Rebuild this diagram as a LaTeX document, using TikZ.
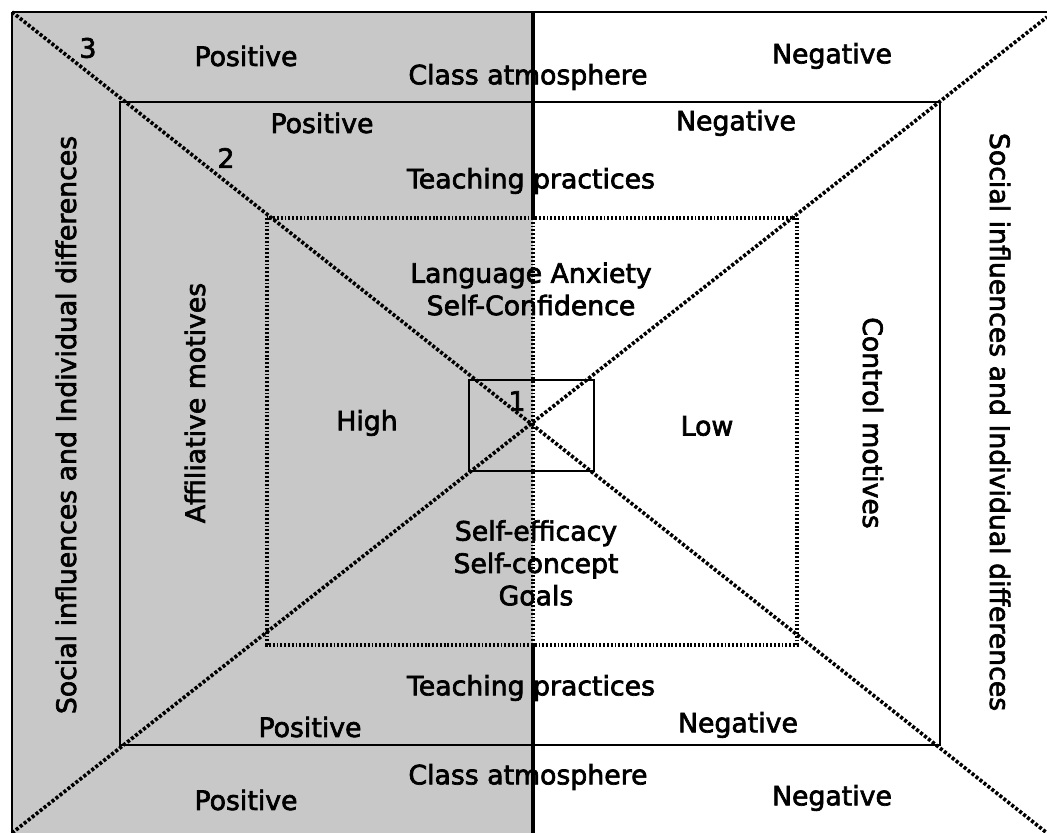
\documentclass[tikz,border=0pt]{standalone}
\usepackage{fontspec}
\setmainfont{DejaVu Sans}
\newfontfamily\lblfont{DejaVu Sans}[FakeBold=2.5]
\definecolor{panelgray}{RGB}{200,200,200}
\begin{document}
\begin{tikzpicture}[x=0.025cm, y=-0.025cm,
  lbl/.style={font=\lblfont\fontsize{19}{23}\selectfont, inner sep=0pt, align=center},
  frame/.style={line width=1.5pt},
  diag/.style={line width=2.6pt, dash pattern=on 2.2pt off 1.4pt},
  dotline/.style={line width=2.4pt, dash pattern=on 1.3pt off 1.4pt}]
  \useasboundingbox (0,0) rectangle (1047,833);
  \fill[panelgray] (12,12) rectangle (533,833);
  \draw[frame] (12,12) -- (1047,12);
  \draw[frame] (12,12) -- (12,833);
  % the three boxes
  \draw[frame] (120,102) rectangle (940,745);
  \draw[dotline] (267,218) rectangle (797,645);
  \draw[line width=1.3pt] (469,380) rectangle (594,471);
  % centre line
  \draw[line width=2.8pt] (533,12) -- (533,218);
  \draw[line width=2.8pt] (533,645) -- (533,833);
  \draw[dotline] (533,218) -- (533,645);
  % diagonals
  \draw[diag] (12,12) -- (1047,833);
  \draw[diag] (12,833) -- (1047,17);
  % level numbers
  \node[lbl] (num3) at (88,48) {3};
  \node[lbl] (num2) at (226,158) {2};
  \node[lbl] (num1) at (517,401) {1};
  % outer ring
  \node[lbl] (posTop) at (246,56) {Positive};
  \node[lbl] (negTop) at (832,56) {Negative};
  \node[lbl] (classTop) at (528,77) {Class atmosphere};
  \node[lbl] (posBot) at (246,800) {Positive};
  \node[lbl] (negBot) at (832,798) {Negative};
  \node[lbl] (classBot) at (528,777) {Class atmosphere};
  \node[lbl, rotate=90] (socL) at (66,425) {Social influences and Individual differences};
  \node[lbl, rotate=-90] (socR) at (1000,422) {Social influences and Individual differences};
  % middle ring
  \node[lbl] (posMidT) at (322,123) {Positive};
  \node[lbl] (negMidT) at (736,123) {Negative};
  \node[lbl] (teachT) at (531,181) {Teaching practices};
  \node[lbl] (teachB) at (531,688) {Teaching practices};
  \node[lbl] (posMidB) at (310,727) {Positive};
  \node[lbl] (negMidB) at (738,725) {Negative};
  \node[lbl, rotate=90] (affil) at (195,403) {Affiliative motives};
  \node[lbl, rotate=-90] (ctrl) at (873,423) {Control motives};
  % inner ring
  \node[lbl] (anx) at (531,289) {Language Anxiety\\Self-Confidence};
  \node[lbl] (high) at (367,423) {High};
  \node[lbl] (low) at (707,426) {Low};
  \node[lbl] (selfeff) at (536,563) {Self-efficacy\\Self-concept\\Goals};
\end{tikzpicture}
\end{document}
